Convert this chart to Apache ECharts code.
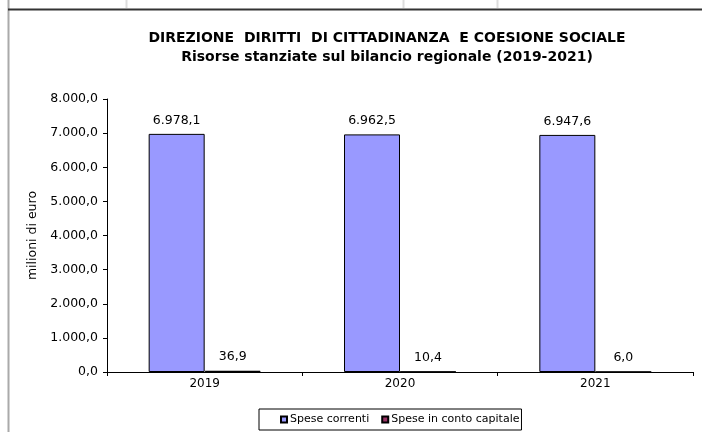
<!DOCTYPE html>
<html lang="it">

<head>
  <meta charset="UTF-8">
  <title>Risorse stanziate</title>
  <style>
    body { margin: 0; background: #fff; }
  </style>
</head>

<body>
  <div id="main" style="width: 702px; height: 432px"></div>

  <script src="https://cdn.jsdelivr.net/npm/echarts@6/dist/echarts.min.js"></script>

  <script>
    var anni = ["2019", "2020", "2021"]
    var speseCorrenti = [6978.1, 6962.5, 6947.6]
    var speseCapitale = [36.9, 10.4, 6.0]
    var yTicks = [0, 1000, 2000, 3000, 4000, 5000, 6000, 7000, 8000]

    // formato italiano: 6.978,1
    function fmt(v) {
      var parts = Number(v).toFixed(1).split(".")
      var intero = parts[0].replace(/\B(?=(\d{3})+(?!\d))/g, ".")
      return intero + "," + parts[1]
    }

    var font = "Verdana, 'DejaVu Sans', sans-serif"

    window.onload = function () {
      var myChart = echarts.init(document.getElementById('main'))

      var option = {
        animation: false,
        textStyle: { fontFamily: font },
        title: {
          text: "DIREZIONE  DIRITTI  DI CITTADINANZA  E COESIONE SOCIALE\nRisorse stanziate sul bilancio regionale (2019-2021)",
          left: 382,
          textAlign: "center",
          top: 24,
          textStyle: {
            fontFamily: font,
            fontSize: 14,
            fontWeight: "bold",
            color: "#000",
            lineHeight: 19
          }
        },
        grid: {
          left: 107,
          right: 9,
          top: 99,
          bottom: 60
        },
        legend: {
          left: 259,
          top: 409,
          padding: [5, 2, 5, 21],
          borderColor: "#000",
          borderWidth: 1,
          itemWidth: 6,
          itemHeight: 6,
          itemGap: 12,
          icon: "rect",
          textStyle: { fontFamily: font, fontSize: 11, color: "#000", padding: [0, 0, 0, -2] },
          data: ["Spese correnti", "Spese in conto capitale"]
        },
        xAxis: {
          type: "category",
          data: anni,
          axisLine: { lineStyle: { color: "#000", width: 1 } },
          axisTick: { show: true, alignWithLabel: false, length: 4, lineStyle: { color: "#000" } },
          axisLabel: { color: "#000", fontSize: 12, margin: 6 }
        },
        yAxis: {
          type: "value",
          min: yTicks[0],
          max: yTicks[yTicks.length - 1],
          interval: 1000,
          name: "milioni di euro",
          nameLocation: "middle",
          nameGap: 64,
          nameTextStyle: { fontFamily: font, fontSize: 12.5, color: "#000" },
          axisLine: { show: true, lineStyle: { color: "#000", width: 1 } },
          axisTick: { show: true, length: 4, lineStyle: { color: "#000" } },
          splitLine: { show: false },
          axisLabel: {
            color: "#000",
            fontSize: 12.5,
            margin: 9,
            formatter: function (v) { return fmt(v) }
          }
        },
        series: [
          {
            name: "Spese correnti",
            type: "bar",
            data: speseCorrenti,
            barWidth: 56,
            barGap: "0%",
            itemStyle: { color: "#9999FF", borderColor: "#000", borderWidth: 1 },
            label: {
              show: true,
              position: "top",
              distance: 7,
              color: "#000",
              fontSize: 12.5,
              formatter: function (p) { return fmt(p.value) }
            }
          },
          {
            name: "Spese in conto capitale",
            type: "bar",
            data: speseCapitale,
            barWidth: 56,
            itemStyle: { color: "#993366", borderColor: "#000", borderWidth: 1 },
            label: {
              show: true,
              position: "top",
              distance: 7,
              color: "#000",
              fontSize: 12.5,
              formatter: function (p) { return fmt(p.value) }
            }
          }
        ],
        // bordi del foglio di calcolo intorno al grafico
        graphic: [
          { type: "line", shape: { x1: 8.5, y1: 0, x2: 8.5, y2: 432 }, style: { stroke: "#aaa", lineWidth: 2 } },
          { type: "line", shape: { x1: 8, y1: 9.5, x2: 702, y2: 9.5 }, style: { stroke: "#333", lineWidth: 2 } },
          { type: "line", shape: { x1: 126.5, y1: 0, x2: 126.5, y2: 8 }, style: { stroke: "#ddd", lineWidth: 2 } },
          { type: "line", shape: { x1: 403.5, y1: 0, x2: 403.5, y2: 8 }, style: { stroke: "#ddd", lineWidth: 2 } },
          { type: "line", shape: { x1: 497.5, y1: 0, x2: 497.5, y2: 8 }, style: { stroke: "#ddd", lineWidth: 2 } }
        ]
      }

      myChart.setOption(option)
    }
  </script>
</body>

</html>
